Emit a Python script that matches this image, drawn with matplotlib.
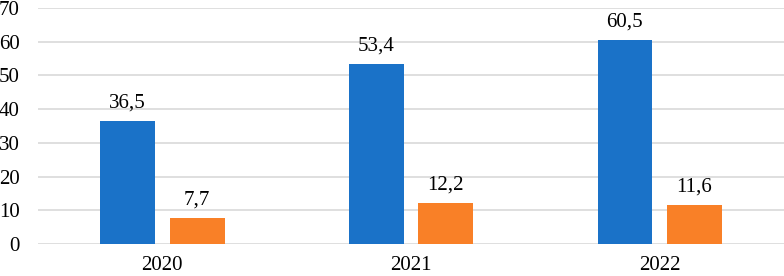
import matplotlib
matplotlib.use("Agg")
import matplotlib.pyplot as plt
import numpy as np

years = ["2020", "2021", "2022"]
series_a = [36.5, 53.4, 60.5]
series_b = [7.7, 12.2, 11.6]

plt.rcParams['font.family'] = ['Liberation Serif', 'DejaVu Serif']

fig = plt.figure(figsize=(7.84, 2.76), dpi=100)
ax = fig.add_axes([0.0485, 0.116, 0.9515, 0.855])

x = np.arange(len(years))
w = 0.22
off = 0.14
blue = "#1A72C8"
orange = "#F98027"
ba = ax.bar(x - off, series_a, width=w, color=blue, zorder=3)
bb = ax.bar(x + off, series_b, width=w, color=orange, zorder=3)

def fmt(v):
    return f"{v:.1f}".replace(".", ",")

for rect, v in zip(ba, series_a):
    ax.annotate(fmt(v), (rect.get_x() + rect.get_width() / 2, v), xytext=(0, 6),
                textcoords="offset points", ha="center", va="bottom", fontsize=15)
for rect, v in zip(bb, series_b):
    ax.annotate(fmt(v), (rect.get_x() + rect.get_width() / 2, v), xytext=(0, 6),
                textcoords="offset points", ha="center", va="bottom", fontsize=15)

ax.set_xlim(-0.5, 2.5)
ax.set_ylim(0, 70)
ax.set_yticks(range(0, 71, 10))
ax.set_xticks(x)
ax.set_xticklabels(years)
ax.tick_params(axis="both", length=0, labelsize=15)
ax.tick_params(axis="x", pad=9)
ax.tick_params(axis="y", pad=13)
ax.grid(axis="y", color="#D9D9D9", linewidth=1.2, zorder=0)
for s in ax.spines.values():
    s.set_visible(False)

fig.savefig("out.png", dpi=100)
